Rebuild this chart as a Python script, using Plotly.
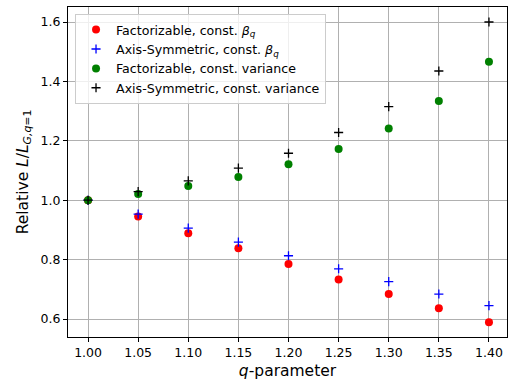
import plotly.graph_objects as go

q = [1.00, 1.05, 1.10, 1.15, 1.20, 1.25, 1.30, 1.35, 1.40]
fact_beta = [1.000, 0.945, 0.889, 0.838, 0.785, 0.733, 0.684, 0.636, 0.589]
axis_beta = [1.000, 0.953, 0.906, 0.859, 0.813, 0.769, 0.726, 0.684, 0.645]
fact_var = [1.000, 1.021, 1.048, 1.078, 1.121, 1.172, 1.241, 1.334, 1.466]
axis_var = [1.000, 1.029, 1.065, 1.108, 1.158, 1.228, 1.315, 1.435, 1.600]

xticks = [1.00, 1.05, 1.10, 1.15, 1.20, 1.25, 1.30, 1.35, 1.40]
xticklabels = ["1.00", "1.05", "1.10", "1.15", "1.20", "1.25", "1.30", "1.35", "1.40"]
yticks = [0.6, 0.8, 1.0, 1.2, 1.4, 1.6]
yticklabels = ["0.6", "0.8", "1.0", "1.2", "1.4", "1.6"]

fig = go.Figure()
fig.add_trace(go.Scatter(x=q, y=fact_beta, mode="markers",
                         name="Factorizable, const. <i>β</i><sub><i>q</i></sub>",
                         marker=dict(symbol="circle", size=8, color="red")))
fig.add_trace(go.Scatter(x=q, y=axis_beta, mode="markers",
                         name="Axis-Symmetric, const. <i>β</i><sub><i>q</i></sub>",
                         marker=dict(symbol="cross-thin", size=6.5, color="blue",
                                     line=dict(color="blue", width=1.3))))
fig.add_trace(go.Scatter(x=q, y=fact_var, mode="markers",
                         name="Factorizable, const. variance",
                         marker=dict(symbol="circle", size=8, color="green")))
fig.add_trace(go.Scatter(x=q, y=axis_var, mode="markers",
                         name="Axis-Symmetric, const. variance",
                         marker=dict(symbol="cross-thin", size=6.5, color="black",
                                     line=dict(color="black", width=1.3))))

axis_common = dict(showgrid=True, gridcolor="#b0b0b0", gridwidth=1,
                   showline=True, linecolor="black", linewidth=1, mirror=True,
                   ticks="outside", ticklen=4, tickcolor="black", zeroline=False,
                   automargin=False,
                   tickfont=dict(size=12.5, color="black"))

fig.update_layout(
    width=508, height=388,
    margin=dict(l=68, r=1, t=7, b=51),
    paper_bgcolor="white", plot_bgcolor="white",
    font=dict(family="DejaVu Sans", size=12, color="black"),
    xaxis=dict(range=[0.980, 1.418], tickvals=xticks, ticktext=xticklabels,
               title=dict(text="<i>q</i>-parameter", font=dict(size=15.5), standoff=6),
               **axis_common),
    yaxis=dict(range=[0.5394, 1.6505], tickvals=yticks, ticktext=yticklabels,
               title=dict(text="Relative <i>L</i>/<i>L</i><sub><i>G,q</i>=1</sub>",
                          font=dict(size=15.5), standoff=8),
               **axis_common),
    legend=dict(x=0.016, y=0.979, xanchor="left", yanchor="top",
                bgcolor="rgba(255,255,255,0.8)", bordercolor="#cccccc", borderwidth=1,
                font=dict(size=12.6)),
    showlegend=True,
)

fig.write_html("out.html", config={"displayModeBar": False},
               post_script="document.body.style.margin='0';document.body.style.overflow='hidden';")
